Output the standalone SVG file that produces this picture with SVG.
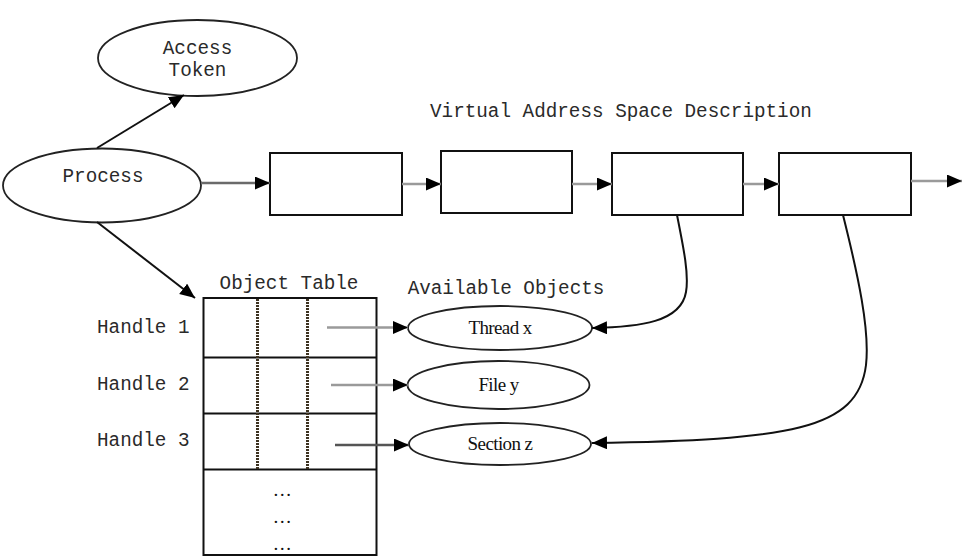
<svg xmlns="http://www.w3.org/2000/svg" width="969" height="560" viewBox="0 0 969 560">
<defs>
<marker id="ah" markerUnits="userSpaceOnUse" markerWidth="16" markerHeight="14" refX="15" refY="6.5" orient="auto">
<path d="M0,0 L15,6.5 L0,13 z" fill="#000"/>
</marker>
<style>
.mono{font-family:"Liberation Mono","Courier New",monospace;font-size:19.3px;fill:#2a2a2a}
.serif{font-family:"Liberation Serif","Times New Roman",serif;font-size:19px;fill:#111;letter-spacing:-0.6px}
.node{fill:#fff;stroke:#222;stroke-width:1.8}
.box{fill:#fff;stroke:#111;stroke-width:2}
.gl{fill:none;stroke:#9a9a9a;stroke-width:2.5}
.bl{fill:none;stroke:#111;stroke-width:2}
.dot{stroke:#3d3220;stroke-width:3;stroke-dasharray:2 1}
</style>
</defs>
<rect width="969" height="560" fill="#fff"/>

<g id="access-token">
<ellipse class="node" cx="197.5" cy="58" rx="99.5" ry="38"/>
<text class="mono" x="197.5" y="54" text-anchor="middle">Access</text>
<text class="mono" x="197.5" y="76" text-anchor="middle">Token</text>
</g>

<g id="process">
<ellipse class="node" cx="102" cy="185.5" rx="99" ry="37"/>
<text class="mono" x="103" y="182" text-anchor="middle">Process</text>
</g>

<text id="vas-title" class="mono" x="430" y="117">Virtual Address Space Description</text>

<g id="vad1"><rect class="box" x="270" y="153" width="132" height="62"/></g>
<g id="vad2"><rect class="box" x="441" y="151" width="131" height="62"/></g>
<g id="vad3"><rect class="box" x="612" y="153" width="131" height="62"/></g>
<g id="vad4"><rect class="box" x="779" y="153" width="132" height="62"/></g>

<g id="object-table">
<text class="mono" x="289" y="289" text-anchor="middle">Object Table</text>
<rect class="box" x="203.5" y="298" width="173" height="257"/>
<line class="bl" x1="203.5" y1="357.5" x2="376.5" y2="357.5"/>
<line class="bl" x1="203.5" y1="413.5" x2="376.5" y2="413.5"/>
<line class="bl" x1="203.5" y1="469.5" x2="376.5" y2="469.5"/>
<line class="dot" x1="257.5" y1="299" x2="257.5" y2="469"/>
<line class="dot" x1="307.5" y1="299" x2="307.5" y2="469"/>
<text class="serif" x="282" y="496" text-anchor="middle">…</text>
<text class="serif" x="282" y="523" text-anchor="middle">…</text>
<text class="serif" x="282" y="550" text-anchor="middle">…</text>
</g>

<g id="handles">
<text class="mono" x="97" y="333">Handle 1</text>
<text class="mono" x="97" y="390">Handle 2</text>
<text class="mono" x="97" y="446">Handle 3</text>
</g>

<text id="available-title" class="mono" x="506" y="294" text-anchor="middle">Available Objects</text>

<g id="thread-x">
<ellipse class="node" cx="500" cy="328" rx="92" ry="22"/>
<text class="serif" x="500" y="334" text-anchor="middle">Thread x</text>
</g>
<g id="file-y">
<ellipse class="node" cx="498.5" cy="385" rx="91" ry="24"/>
<text class="serif" x="498.5" y="391" text-anchor="middle">File y</text>
</g>
<g id="section-z">
<ellipse class="node" cx="500" cy="444" rx="91" ry="21"/>
<text class="serif" x="500" y="450" text-anchor="middle">Section z</text>
</g>

<g id="connectors">
<line class="bl" x1="97" y1="148" x2="184" y2="95" marker-end="url(#ah)"/>
<line class="bl" x1="97" y1="222" x2="195" y2="298" marker-end="url(#ah)"/>
<line class="gl" x1="201" y1="183" x2="270" y2="183" style="stroke:#6a6a6a" marker-end="url(#ah)"/>
<line class="gl" x1="402" y1="184" x2="441" y2="184" marker-end="url(#ah)"/>
<line class="gl" x1="572" y1="184" x2="612" y2="184" marker-end="url(#ah)"/>
<line class="gl" x1="743" y1="184" x2="779" y2="184" marker-end="url(#ah)"/>
<line class="gl" x1="911" y1="181" x2="962" y2="181" marker-end="url(#ah)"/>
<line class="gl" x1="327" y1="327.5" x2="408" y2="327.5" marker-end="url(#ah)"/>
<line class="gl" x1="331" y1="385" x2="408" y2="385" marker-end="url(#ah)"/>
<line class="gl" x1="335" y1="445" x2="409" y2="445" style="stroke:#555" marker-end="url(#ah)"/>
<path class="bl" d="M677,215 C684,250 689,275 686,292 C681,322 640,327 592,328" marker-end="url(#ah)"/>
<path class="bl" d="M843,215 C858,275 870,330 866,365 C858,430 790,440 592,443" marker-end="url(#ah)"/>
</g>
</svg>
